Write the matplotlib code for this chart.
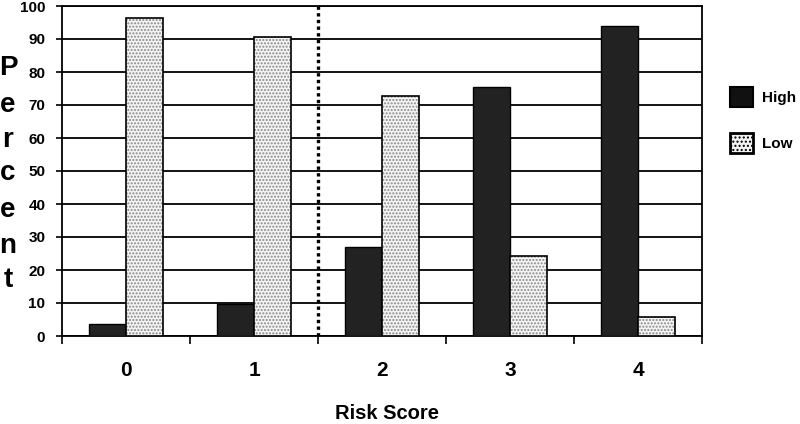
import matplotlib
matplotlib.use("Agg")
import matplotlib.pyplot as plt
from matplotlib.patches import Patch
import numpy as np

categories = ["0", "1", "2", "3", "4"]
high = [3.5, 9.6, 27.0, 75.6, 94.0]
low = [96.4, 90.5, 72.8, 24.2, 5.9]
series_names = ["High", "Low"]
yticks = [0, 10, 20, 30, 40, 50, 60, 70, 80, 90, 100]
ylabel = "Percent"
xlabel = "Risk Score"
cutoff = 1.5

NARROW = ["Liberation Sans Narrow", "Liberation Sans", "DejaVu Sans"]
REG = ["Liberation Sans", "DejaVu Sans"]

W, H = 800, 424
fig = plt.figure(figsize=(8, 4.24), dpi=100)
ax = fig.add_axes([62 / W, 1 - 336 / H, 640 / W, 330 / H])

x = np.arange(len(categories))
bw = 0.285
# High bars
ax.bar(x - 0.143, high, width=bw, color="#222222", edgecolor="black", linewidth=1.0, zorder=3)
# Low bars: stipple then outline
ax.bar(x + 0.143, low, width=bw, color="#f4f4f4", edgecolor="#8a8a8a", hatch=".....",
       linewidth=0, zorder=3)
ax.bar(x + 0.143, low, width=bw, color="none", edgecolor="black", linewidth=1.2, zorder=4)

ax.set_xlim(-0.5, len(categories) - 0.5)
ax.set_ylim(0, 100)
ax.set_yticks(yticks)
ax.set_yticklabels([str(v) for v in yticks], fontsize=11, fontweight="bold", family=NARROW)
ax.yaxis.grid(True, color="black", linewidth=1.3, zorder=0)
ax.set_axisbelow(True)

ax.set_xticks(np.arange(len(categories) + 1) - 0.5)
ax.set_xticklabels([""] * (len(categories) + 1))
ax.set_xticks(x, minor=True)
ax.set_xticklabels(categories, minor=True, fontsize=15, fontweight="bold", family=NARROW)
ax.tick_params(axis="x", which="major", length=6, width=1.2, direction="out")
ax.tick_params(axis="x", which="minor", length=0, pad=18)
ax.tick_params(axis="y", length=4, width=1.2, direction="out", pad=8)

for s in ax.spines.values():
    s.set_linewidth(1.3)
    s.set_color("black")

ax.axvline(cutoff, color="black", linewidth=2.4, linestyle=(0, (1, 1)), zorder=5)

# Vertical stacked y label
baselines = [75, 112, 147, 180, 217, 253, 287]
for ch, yb in zip(ylabel, baselines):
    fig.text(8 / W, 1 - yb / H, ch, ha="center", va="baseline", fontsize=20,
             fontweight="bold", family=NARROW)

fig.text(387 / W, 1 - 419 / H, xlabel, ha="center", va="baseline", fontsize=14.5,
         fontweight="bold", family=REG)

handles = [
    Patch(facecolor="#111111", edgecolor="black", linewidth=1.5),
    Patch(facecolor="#f4f4f4", edgecolor="black", hatch="....", linewidth=2.0),
]
leg = fig.legend(handles, series_names, loc="upper left",
                 bbox_to_anchor=(730 / W, 1 - 87 / H), frameon=False,
                 handlelength=1.5, handleheight=1.6, handletextpad=0.6,
                 labelspacing=1.75, borderpad=0.0, borderaxespad=0.0,
                 prop={"family": NARROW, "weight": "bold", "size": 11})

fig.savefig("out.png", dpi=100)
